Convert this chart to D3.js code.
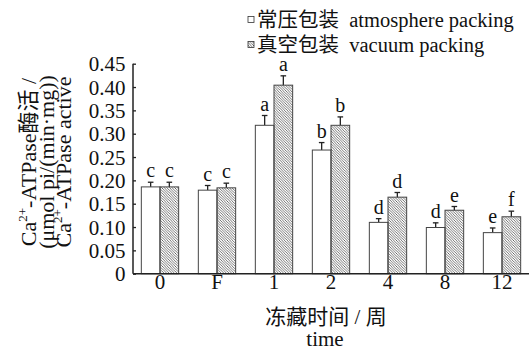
<!DOCTYPE html>
<html>
<head>
<meta charset="utf-8">
<script src="https://cdnjs.cloudflare.com/ajax/libs/d3/7.8.5/d3.min.js"></script>
<style>
  body { margin: 0; background: #fff; }
  svg text { font-family: "Liberation Serif", "Noto Sans CJK SC", serif; fill: #111; }
</style>
</head>
<body>
<svg id="chart" width="530" height="350"></svg>
<script>
var groups = ["0", "F", "1", "2", "4", "8", "12"];
var atmosphere = [0.186, 0.179, 0.318, 0.265, 0.110, 0.099, 0.088];
var atmosphereErr = [0.010, 0.010, 0.021, 0.016, 0.008, 0.010, 0.010];
var atmosphereSig = ["c", "c", "a", "b", "d", "d", "e"];
var vacuum = [0.186, 0.184, 0.404, 0.318, 0.164, 0.136, 0.122];
var vacuumErr = [0.010, 0.010, 0.020, 0.018, 0.010, 0.008, 0.012];
var vacuumSig = ["c", "c", "a", "b", "d", "e", "f"];
var yTicks = [0, 0.05, 0.10, 0.15, 0.20, 0.25, 0.30, 0.35, 0.40, 0.45];

var svg = d3.select("#chart");

// hatch for vacuum packing
var defs = svg.append("defs");
defs.append("pattern")
    .attr("id", "hatch")
    .attr("patternUnits", "userSpaceOnUse")
    .attr("width", 2.6).attr("height", 2.6)
  .append("path")
    .attr("d", "M-1,-1 L3.6,3.6 M-1,1.6 L1,3.6 M1.6,-1 L3.6,1")
    .attr("stroke", "#555")
    .attr("stroke-width", 0.8);

var x0 = 133, x1 = 529, yBase = 273.7, yTop = 63.7;

var xScale = d3.scaleBand()
    .domain(groups)
    .range([x0, x1])
    .paddingInner(0.345)
    .paddingOuter(0.146);

var xSub = d3.scaleBand()
    .domain(["atm", "vac"])
    .range([0, xScale.bandwidth()]);

var yScale = d3.scaleLinear()
    .domain([0, 0.45])
    .range([yBase, yTop]);

var series = [
  {key: "atm", vals: atmosphere, err: atmosphereErr, sig: atmosphereSig, fill: "#fff"},
  {key: "vac", vals: vacuum, err: vacuumErr, sig: vacuumSig, fill: "url(#hatch)"}
];

series.forEach(function(s) {
  var g = svg.append("g");
  groups.forEach(function(grp, i) {
    var bx = xScale(grp) + xSub(s.key);
    var bw = xSub.bandwidth();
    var cx = bx + bw / 2;
    var top = yScale(s.vals[i]);
    var etop = yScale(s.vals[i] + s.err[i]);

    g.append("line")
      .attr("x1", cx).attr("x2", cx)
      .attr("y1", top).attr("y2", etop)
      .attr("stroke", "#222").attr("stroke-width", 1.3);
    g.append("line")
      .attr("x1", cx - 2.8).attr("x2", cx + 2.8)
      .attr("y1", etop).attr("y2", etop)
      .attr("stroke", "#222").attr("stroke-width", 1.3);

    g.append("rect")
      .attr("x", bx).attr("y", top)
      .attr("width", bw).attr("height", yBase - top)
      .attr("fill", s.fill)
      .attr("stroke", "#444").attr("stroke-width", 1);

    g.append("text")
      .attr("x", cx).attr("y", etop - 5)
      .attr("text-anchor", "middle")
      .style("font-size", "20px")
      .text(s.sig[i]);
  });
});

// y axis with inward ticks
var yAxis = d3.axisRight(yScale)
    .tickValues(yTicks)
    .tickSize(3)
    .tickFormat(function(d) { return d === 0 ? "0" : d3.format(".2f")(d); });

var yg = svg.append("g")
    .attr("transform", "translate(" + x0 + ",0)")
    .call(yAxis);
yg.select(".domain").attr("stroke", "#222").attr("stroke-width", 1.5)
    .attr("d", "M0," + yTop + "V" + yBase);
yg.selectAll(".tick line").attr("stroke", "#222").attr("stroke-width", 1.3);
yg.selectAll(".tick text")
    .attr("x", -7.5)
    .attr("dy", "0.34em")
    .attr("text-anchor", "end")
    .style("font-size", "21px");

// x axis
var xAxis = d3.axisBottom(xScale).tickSize(0);
var xg = svg.append("g")
    .attr("transform", "translate(0," + yBase + ")")
    .call(xAxis);
xg.select(".domain").attr("stroke", "#222").attr("stroke-width", 1.5)
    .attr("d", "M" + x0 + ",0H" + x1);
xg.selectAll(".tick text")
    .attr("y", 15.5).attr("dy", 0)
    .style("font-size", "21px");

svg.append("text")
   .attr("x", 326).attr("y", 324)
   .attr("text-anchor", "middle")
   .style("font-size", "21px")
   .text("冻藏时间 / 周");
svg.append("text")
   .attr("x", 325).attr("y", 346)
   .attr("text-anchor", "middle")
   .style("font-size", "21px")
   .text("time");

// y axis title, three rotated lines
var yTitleY = 162;
var t1 = svg.append("text")
   .attr("text-anchor", "middle")
   .attr("transform", "translate(36," + yTitleY + ")rotate(-90)")
   .style("font-size", "22px");
t1.append("tspan").text("Ca");
t1.append("tspan").attr("dy", -9).style("font-size", "13px").text("2+");
t1.append("tspan").attr("dy", 9).text("-ATPase酶活 /");

svg.append("text")
   .attr("text-anchor", "middle")
   .attr("transform", "translate(54," + yTitleY + ")rotate(-90)")
   .style("font-size", "22px")
   .text("(μmol pi/(min·mg))");

var t3 = svg.append("text")
   .attr("text-anchor", "middle")
   .attr("transform", "translate(71," + yTitleY + ")rotate(-90)")
   .style("font-size", "22px");
t3.append("tspan").text("Ca");
t3.append("tspan").attr("dy", -9).style("font-size", "13px").text("2+");
t3.append("tspan").attr("dy", 9).text("-ATPase active");

// legend
var legend = [
  {label: "常压包装  atmosphere packing", fill: "#fff"},
  {label: "真空包装  vacuum packing", fill: "url(#hatch)"}
];
legend.forEach(function(l, i) {
  var ly = 19.5 + i * 25;
  svg.append("rect")
     .attr("x", 248).attr("y", ly - 3)
     .attr("width", 6).attr("height", 6)
     .attr("fill", l.fill)
     .attr("stroke", "#333").attr("stroke-width", 0.8);
  svg.append("text")
     .attr("x", 257).attr("y", ly + 7.5)
     .style("font-size", "20.5px")
     .style("white-space", "pre")
     .text(l.label);
});
</script>
</body>
</html>
